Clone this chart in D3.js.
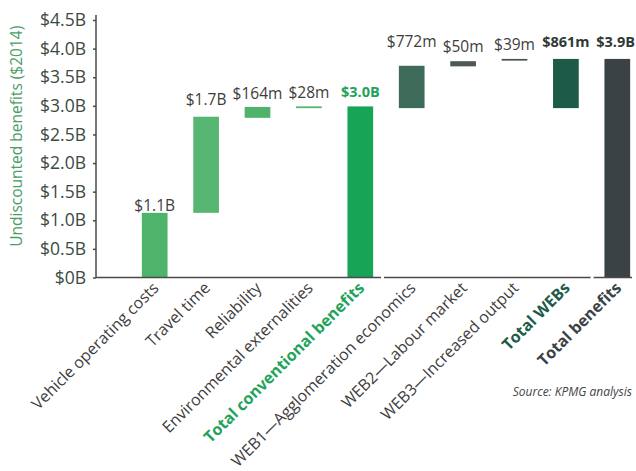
<!DOCTYPE html>
<html>
<head>
<meta charset="utf-8">
<script src="https://cdn.jsdelivr.net/npm/d3@7"></script>
<style>
  body { margin: 0; background: #fff; }
  text { font-family: "Open Sans", sans-serif; }
</style>
</head>
<body>
<div id="chart"></div>
<script>
const categories = [
  "Vehicle operating costs", "Travel time", "Reliability", "Environmental externalities",
  "Total conventional benefits", "WEB1\u2014Agglomeration economics", "WEB2\u2014Labour market",
  "WEB3\u2014Increased output", "Total WEBs", "Total benefits"
];
// bar bottoms and tops, $ billions
const barLow  = [0, 1.13, 2.79, 2.96, 0, 2.96, 3.69, 3.79, 2.96, 0];
const barHigh = [1.13, 2.81, 2.98, 2.99, 2.99, 3.70, 3.78, 3.82, 3.82, 3.82];
const valueLabels = ["$1.1B", "$1.7B", "$164m", "$28m", "$3.0B", "$772m", "$50m", "$39m", "$861m", "$3.9B"];
const yTicks = [0, 0.5, 1, 1.5, 2, 2.5, 3, 3.5, 4, 4.5];
const yTickLabels = ["$0B", "$0.5B", "$1.0B", "$1.5B", "$2.0B", "$2.5B", "$3.0B", "$3.5B", "$4.0B", "$4.5B"];

const width = 636, height = 471;
const barColors = ["#50b36c", "#58b673", "#50b36c", "#50b36c", "#17a456",
  "#3f6b5a", "#4e5853", "#4a524e", "#1d5a47", "#3a4246"];
const labelColors = ["#3d3d3d", "#3d3d3d", "#3d3d3d", "#3d3d3d", "#1fa35a",
  "#3d3d3d", "#3d3d3d", "#3d3d3d", "#2f3a36", "#2f3a36"];
const catColors = ["#3d3d3d", "#3d3d3d", "#3d3d3d", "#3d3d3d", "#1fa35a",
  "#3d3d3d", "#3d3d3d", "#3d3d3d", "#1d5a47", "#3a4246"];
const bold = [false, false, false, false, true, false, false, false, true, true];
const labelGap = [2, 12, 8, 8, 9, 19, 9, 9, 12, 12];

const svg = d3.select("#chart").append("svg")
  .attr("width", width)
  .attr("height", height);

const x = d3.scaleBand()
  .domain(categories)
  .range([129, 643])
  .paddingInner(0.5)
  .paddingOuter(0.25);

const y = d3.scaleLinear()
  .domain([0, 4.5])
  .range([277.5, 20]);

// y axis
const yAxis = svg.append("g")
  .attr("transform", "translate(96,0)")
  .call(d3.axisLeft(y).tickValues(yTicks).tickFormat((d, i) => yTickLabels[i]).tickSize(3).tickPadding(7));
yAxis.select(".domain").remove();
yAxis.selectAll(".tick line").attr("stroke", "#4a4a4a").attr("stroke-width", 1.5);
yAxis.selectAll(".tick text")
  .attr("fill", "#3b4a42")
  .style("font-size", "17.5px");
svg.append("line")
  .attr("x1", 96).attr("x2", 96)
  .attr("y1", 15).attr("y2", y(0))
  .attr("stroke", "#4a4a4a").attr("stroke-width", 1.5);

svg.append("text")
  .attr("transform", `translate(22,${(y(0) + 15) / 2 - 10}) rotate(-90)`)
  .attr("text-anchor", "middle")
  .attr("fill", "#4d9d66")
  .style("font-size", "15.5px")
  .text("Undiscounted benefits ($2014)");

// bars
svg.selectAll("rect.bar")
  .data(categories)
  .enter().append("rect")
  .attr("class", "bar")
  .attr("x", d => x(d))
  .attr("width", x.bandwidth())
  .attr("y", (d, i) => y(barHigh[i]))
  .attr("height", (d, i) => Math.max(1.5, y(barLow[i]) - y(barHigh[i])))
  .attr("fill", (d, i) => barColors[i]);

// baseline in three segments (gaps between groups)
const step = x.step();
const gapAfter = i => x(categories[i]) + x.bandwidth() + (step - x.bandwidth()) / 2;
const segs = [[96, gapAfter(4) - 5], [gapAfter(4) - 2, gapAfter(8) - 1], [gapAfter(8) + 2, 632]];
svg.selectAll("line.base")
  .data(segs)
  .enter().append("line")
  .attr("x1", d => d[0]).attr("x2", d => d[1])
  .attr("y1", y(0)).attr("y2", y(0))
  .attr("stroke", "#4a4a4a").attr("stroke-width", 1.5);

// value labels
const vals = svg.selectAll("text.val")
  .data(categories)
  .enter().append("text")
  .attr("class", "val")
  .attr("x", d => x(d) + x.bandwidth() / 2)
  .attr("y", (d, i) => y(barHigh[i]) - labelGap[i])
  .attr("text-anchor", "middle")
  .attr("fill", (d, i) => labelColors[i])
  .style("font-size", (d, i) => bold[i] ? "14.5px" : "15.5px")
  .style("font-weight", (d, i) => bold[i] ? "bold" : "normal")
  .text((d, i) => valueLabels[i]);

// keep the last label inside the frame
vals.each(function () {
  const b = this.getBBox();
  if (b.x + b.width > width - 1) {
    d3.select(this).attr("x", +d3.select(this).attr("x") - (b.x + b.width - (width - 1)));
  }
});

// category labels
svg.selectAll("text.cat")
  .data(categories)
  .enter().append("text")
  .attr("class", "cat")
  .attr("transform", d => `translate(${x(d) + x.bandwidth() / 2 + 5},289) rotate(-45)`)
  .attr("text-anchor", "end")
  .attr("fill", (d, i) => catColors[i])
  .style("font-size", "16px")
  .style("font-weight", (d, i) => bold[i] ? "bold" : "normal")
  .text(d => d);

svg.append("text")
  .attr("x", 632)
  .attr("y", 396)
  .attr("text-anchor", "end")
  .attr("fill", "#444")
  .style("font-size", "12px")
  .style("font-style", "italic")
  .text("Source: KPMG analysis");
</script>
</body>
</html>
